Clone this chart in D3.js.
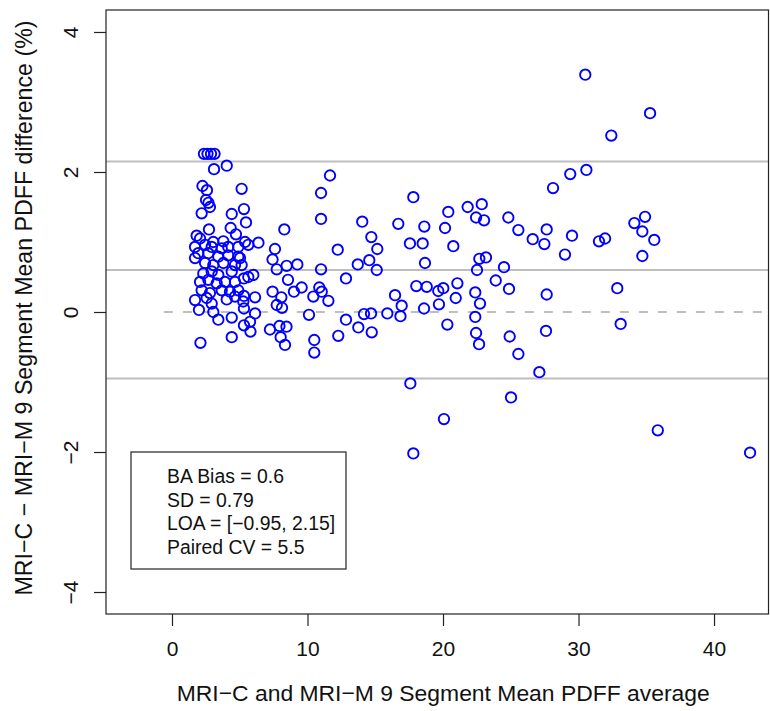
<!DOCTYPE html>
<html>
<head>
<meta charset="utf-8">
<script src="https://cdn.jsdelivr.net/npm/d3@7"></script>
<style>
body { margin: 0; background: #fff; }
svg text { font-family: "Liberation Sans", Arial, Helvetica, sans-serif; fill: #111; }
</style>
</head>
<body>
<div id="plot"></div>
<script>
// Bland-Altman values: mean of the two methods vs their difference
const avgPDFF = [
  30.50, 35.28, 32.42, 30.58, 29.39, 28.12, 17.81, 21.82, 22.86, 20.39,
  22.44, 23.03, 24.82, 16.70, 18.62, 20.15, 25.56, 27.65, 26.62, 27.48,
  29.52, 31.51, 31.96, 34.12, 34.91, 34.71, 35.59, 34.71, 17.56, 18.50,
  20.76, 29.00, 18.67, 22.68, 23.17, 22.51, 24.50, 23.89, 18.03, 18.80,
  19.65, 20.02, 21.06, 22.38, 20.94, 22.73, 24.87, 27.65, 32.86, 16.95,
  16.86, 19.70, 18.60, 20.32, 22.38, 22.44, 22.66, 24.92, 25.56, 27.60,
  33.11, 27.11, 17.59, 25.02, 20.07, 35.85, 17.81, 42.66, 16.46,
  11.66, 11.00, 11.00, 14.04, 14.71, 12.23, 15.15, 9.25, 11.00, 13.71,
  14.56, 15.11, 12.84, 9.57, 9.00, 10.87, 11.05, 10.43, 11.54, 10.11,
  14.17, 14.69, 15.89, 12.84, 13.75, 14.74, 12.27, 10.50, 10.50, 8.29,
  8.56, 8.45, 8.34,
  5.31, 5.46, 5.39, 5.63, 6.38, 7.60, 7.42, 7.73, 8.46, 5.02,
  5.14, 5.31, 7.42, 8.07, 7.73, 8.12, 6.13, 5.31, 5.31, 6.13,
  5.31, 5.79, 7.23, 7.93, 8.02,
  2.36, 2.62, 2.88, 3.14, 3.10, 4.04, 2.25, 2.58, 5.14, 2.51,
  2.69, 2.80, 2.19, 4.41, 2.73, 4.33, 4.72, 1.82, 2.07, 3.79,
  3.05, 2.44, 2.93, 1.70, 1.94, 1.70, 4.89, 4.15, 3.67, 2.68,
  3.42, 4.15, 4.89, 2.44, 3.05, 3.79, 4.65, 2.31, 2.93, 3.42,
  4.41, 5.63, 2.07, 2.68, 3.30, 3.91, 4.65, 6.00, 2.19, 2.80,
  3.67, 4.28, 4.89, 1.70, 2.56, 4.04, 4.65, 5.26, 1.99, 3.05,
  3.42, 4.41, 5.76, 2.10, 4.41, 2.93
];
const diffPDFF = [
  3.39, 2.84, 2.52, 2.03, 1.97, 1.77, 1.64, 1.50, 1.54, 1.43,
  1.35, 1.31, 1.35, 1.26, 1.22, 1.20, 1.17, 1.18, 1.04, 0.97,
  1.09, 1.01, 1.05, 1.27, 1.36, 1.15, 1.03, 0.80, 0.98, 0.98,
  0.94, 0.82, 0.70, 0.76, 0.78, 0.60, 0.64, 0.45, 0.37, 0.36,
  0.30, 0.34, 0.41, 0.28, 0.20, 0.12, 0.33, 0.25, 0.34, 0.09,
  -0.06, 0.11, 0.05, -0.18, -0.07, -0.30, -0.46, -0.35, -0.60, -0.27,
  -0.17, -0.86, -1.02, -1.22, -1.53, -1.69, -2.02, -2.01, 0.24,
  1.95, 1.70, 1.33, 1.29, 1.07, 0.89, 0.90, 0.68, 0.61, 0.68,
  0.74, 0.60, 0.48, 0.35, 0.29, 0.35, 0.29, 0.22, 0.16, -0.04,
  -0.03, -0.02, -0.02, -0.11, -0.22, -0.29, -0.34, -0.40, -0.58, 1.18,
  0.46, -0.21, -0.47,
  1.47, 1.28, 1.00, 0.96, 0.99, 0.90, 0.75, 0.61, 0.66, 0.77,
  0.67, 0.48, 0.29, 0.21, 0.10, 0.06, 0.21, 0.23, 0.05, -0.02,
  -0.19, -0.28, -0.25, -0.20, -0.36,
  2.26, 2.26, 2.26, 2.26, 2.04, 2.09, 1.80, 1.74, 1.76, 1.60,
  1.56, 1.50, 1.41, 1.40, 1.18, 1.20, 1.11, 1.09, 1.05, 1.01,
  1.00, 0.96, 0.93, 0.93, 0.84, 0.77, 0.93, 0.93, 0.91, 0.84,
  0.79, 0.81, 0.79, 0.70, 0.67, 0.70, 0.67, 0.55, 0.58, 0.53,
  0.58, 0.50, 0.43, 0.46, 0.41, 0.43, 0.43, 0.53, 0.31, 0.27,
  0.31, 0.29, 0.31, 0.17, 0.20, 0.18, 0.22, 0.15, 0.03, 0.00,
  -0.11, -0.08, -0.14, -0.44, -0.36, 0.12
];

const xTicks = [0, 10, 20, 30, 40];
const yTicks = [-4, -2, 0, 2, 4];
const bias = 0.6, loaLower = -0.95, loaUpper = 2.15;
const legendLines = ["BA Bias = 0.6", "SD = 0.79", "LOA = [\u22120.95, 2.15]", "Paired CV = 5.5"];
const xTitle = "MRI\u2212C and MRI\u2212M 9 Segment Mean PDFF average";
const yTitle = "MRI\u2212C \u2212 MRI\u2212M 9 Segment Mean PDFF difference (%)";

const W = 770, H = 711;
const margin = { top: 10, right: 1.5, bottom: 97, left: 106 };
const width = W - margin.left - margin.right,
      height = H - margin.top - margin.bottom;

const svg = d3.select("#plot")
    .append("svg")
    .attr("width", W)
    .attr("height", H)
    .append("g")
    .attr("transform", `translate(${margin.left},${margin.top})`);

const x = d3.scaleLinear().domain([-4.87, 44.02]).range([0, width]);
const y = d3.scaleLinear().domain([-4.314, 4.314]).range([height, 0]);

// reference lines: limits of agreement and bias (solid), zero (dashed)
svg.selectAll("line.ref")
    .data([loaUpper, bias, loaLower])
    .join("line")
    .attr("class", "ref")
    .attr("x1", 0).attr("x2", width)
    .attr("y1", d => y(d)).attr("y2", d => y(d))
    .attr("stroke", "#bebebe")
    .attr("stroke-width", 2);

svg.append("line")
    .attr("x1", x(-0.6)).attr("x2", width)
    .attr("y1", y(0)).attr("y2", y(0))
    .attr("stroke", "#bebebe")
    .attr("stroke-width", 2)
    .attr("stroke-dasharray", "9,10");

// points
svg.selectAll("circle")
    .data(avgPDFF.map((v, i) => [v, diffPDFF[i]]))
    .join("circle")
    .attr("cx", d => x(d[0]))
    .attr("cy", d => y(d[1]))
    .attr("r", 5.2)
    .attr("fill", "none")
    .attr("stroke", "#0000ff")
    .attr("stroke-width", 1.9);

// frame
svg.append("rect")
    .attr("width", width)
    .attr("height", height)
    .attr("fill", "none")
    .attr("stroke", "#222")
    .attr("stroke-width", 1.2);

// x axis
const xAxis = svg.append("g")
    .attr("transform", `translate(0,${height})`)
    .call(d3.axisBottom(x).tickValues(xTicks).tickSize(12).tickPadding(0).tickFormat(d3.format("d")));
xAxis.select(".domain").remove();
xAxis.selectAll("line").attr("stroke", "#222").attr("stroke-width", 1.2);
xAxis.selectAll("text")
    .attr("y", 42).attr("dy", 0)
    .attr("font-size", "21px")
    .attr("fill", "#111");

// y axis, labels rotated like base R
const yAxis = svg.append("g")
    .call(d3.axisLeft(y).tickValues(yTicks).tickSize(12).tickFormat(d => d3.format("d")(d).replace("-", "\u2212")));
yAxis.select(".domain").remove();
yAxis.selectAll("line").attr("stroke", "#222").attr("stroke-width", 1.2);
yAxis.selectAll("text")
    .attr("x", 0).attr("dy", 0)
    .attr("text-anchor", "middle")
    .attr("transform", "translate(-28,0) rotate(-90)")
    .attr("font-size", "21px")
    .attr("fill", "#111");

// axis titles
svg.append("text")
    .attr("x", width / 2 + 6)
    .attr("y", height + 87)
    .attr("text-anchor", "middle")
    .attr("font-size", "22.9px")
    .text(xTitle);

svg.append("text")
    .attr("transform", `translate(${32 - margin.left},${height / 2 - 4}) rotate(-90)`)
    .attr("text-anchor", "middle")
    .attr("font-size", "23.2px")
    .text(yTitle);

// legend box
const legend = svg.append("g")
    .attr("transform", `translate(25,${height - 162})`);
legend.append("rect")
    .attr("width", 215)
    .attr("height", 117)
    .attr("fill", "none")
    .attr("stroke", "#222")
    .attr("stroke-width", 1.2);
legend.selectAll("text")
    .data(legendLines)
    .join("text")
    .attr("x", 36)
    .attr("y", (d, i) => 31 + i * 23.5)
    .attr("font-size", "19.4px")
    .text(d => d);
</script>
</body>
</html>
